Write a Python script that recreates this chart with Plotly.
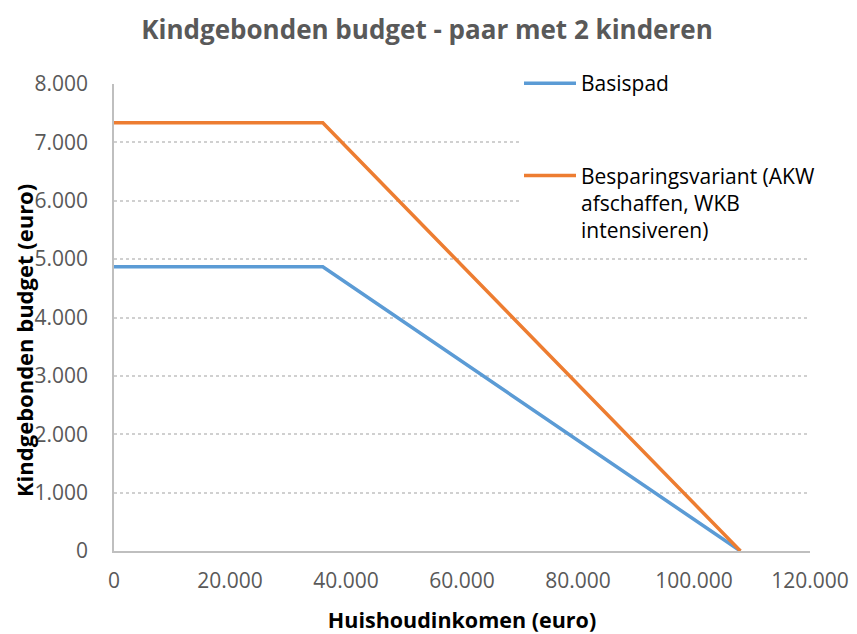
import plotly.graph_objects as go

# Data
income = [0, 36000, 108000]
basispad = [4870, 4870, 0]
besparing = [7335, 7335, 0]
series_names = ["Basispad", "Besparingsvariant (AKW<br>afschaffen, WKB<br>intensiveren)"]
x_ticks = [0, 20000, 40000, 60000, 80000, 100000, 120000]
y_ticks = [0, 1000, 2000, 3000, 4000, 5000, 6000, 7000, 8000]

FONT = "Open Sans"
W, H = 857, 634
L, R, T, B = 106, 55, 76, 91
PW, PH = W - L - R, H - T - B

fig = go.Figure()
fig.add_trace(go.Scatter(x=income, y=basispad, mode="lines", name=series_names[0],
                         line=dict(color="#5B9BD5", width=3.5), legendgroup="a"))
fig.add_trace(go.Scatter(x=income, y=besparing, mode="lines", name=series_names[1],
                         line=dict(color="#ED7D31", width=3.5), legendgroup="b"))

fig.update_layout(
    width=W, height=H,
    margin=dict(l=L, r=R, t=T, b=B),
    paper_bgcolor="white", plot_bgcolor="white",
    separators=",.",
    font=dict(family=FONT, size=21, color="#595959"),
    title=dict(text="Kindgebonden budget - paar met 2 kinderen",
               x=419 / W, xref="container", xanchor="center",
               y=1 - 22 / H, yref="container", yanchor="middle",
               font=dict(family=FONT, size=26, color="#595959", weight="bold")),
    legend=dict(x=(511 - L) / PW, y=(T + PH - 55) / PH, xanchor="left", yanchor="top",
                bgcolor="white", valign="top", tracegroupgap=62,
                traceorder="grouped",
                font=dict(family=FONT, size=21, color="black"),
                itemwidth=52),
    xaxis=dict(range=[0, 120000], tickvals=x_ticks, tickformat=",d",
               showgrid=False, showline=True, linecolor="#bfbfbf", linewidth=1.5,
               ticks="outside", ticklen=10, tickcolor="rgba(0,0,0,0)",
               tickfont=dict(family=FONT, size=21, color="#595959"),
               zeroline=False,
               title=dict(text="Huishoudinkomen (euro)", standoff=20,
                          font=dict(family=FONT, size=21.5, color="black", weight="bold"))),
    yaxis=dict(range=[0, 8000], tickvals=y_ticks, tickformat=",d",
               showgrid=True, gridcolor="#d0d0d0", gridwidth=1.5, griddash="dot",
               showline=True, linecolor="#bfbfbf", linewidth=1.5,
               ticks="outside", ticklen=20, tickcolor="rgba(0,0,0,0)",
               tickfont=dict(family=FONT, size=21, color="#595959"),
               zeroline=False),
    annotations=[dict(text="Kindgebonden budget (euro)", textangle=-90,
                      xref="paper", yref="paper", x=(16 - L) / PW, y=(H - B - 333) / PH,
                      xanchor="center", yanchor="middle", showarrow=False,
                      font=dict(family=FONT, size=22, color="black", weight="bold"))],
)

fig.write_html("out.html")
